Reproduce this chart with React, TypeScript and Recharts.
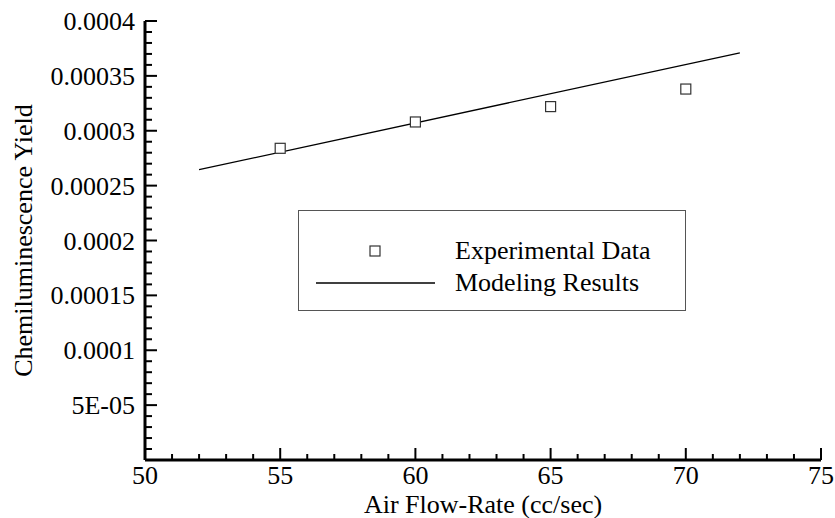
import { Label, Scatter, ScatterChart, XAxis, YAxis } from 'recharts';

// experimental points
const expFlow = [55, 60, 65, 70];
const expYield = [0.000284, 0.000308, 0.000322, 0.000338];

// modeling results (straight line)
const modelFlow = [52, 72];
const modelYield = [0.0002645, 0.000371];

const xMajor = [50, 55, 60, 65, 70, 75];
const xTicks = [50, 51, 52, 53, 54, 55, 56, 57, 58, 59, 60, 61, 62, 63, 64, 65, 66, 67, 68, 69, 70, 71, 72, 73, 74, 75];
const yMajorLabels = ['', '5E-05', '0.0001', '0.00015', '0.0002', '0.00025', '0.0003', '0.00035', '0.0004'];
const yTicks: number[] = [];
for (let i = 0; i <= 40; i++) yTicks.push(i / 100000);

const FONT = 'Liberation Serif, Times New Roman, serif';
const FS = 26;

const expData = expFlow.map((x, i) => ({ x, y: expYield[i] }));
const modelData = modelFlow.map((x, i) => ({ x, y: modelYield[i] }));

function SquareMark({ cx, cy }: any) {
  return <rect x={cx - 5} y={cy - 5} width={10} height={10} fill="#fff" stroke="#333" strokeWidth={1.2} />;
}

function XTick({ x, y, payload }: any) {
  const major = xMajor.includes(payload.value);
  return (
    <g>
      <line x1={x} y1={y} x2={x} y2={y - (major ? 12 : 6)} stroke="#000" strokeWidth={2} />
      {major && (
        <text x={x} y={y + 24} textAnchor="middle" style={{ fontFamily: FONT, fontSize: FS }} fill="#000">
          {payload.value}
        </text>
      )}
    </g>
  );
}

function YTick({ x, y, payload }: any) {
  const steps = Math.round(payload.value * 100000);
  const major = steps % 5 === 0;
  const label = major ? yMajorLabels[steps / 5] : '';
  return (
    <g>
      <line x1={x} y1={y} x2={x + (major ? 12 : 7)} y2={y} stroke="#000" strokeWidth={2} />
      {label && (
        <text x={x - 10} y={y + 9} textAnchor="end" style={{ fontFamily: FONT, fontSize: FS }} fill="#000">
          {label}
        </text>
      )}
    </g>
  );
}

function LegendBox() {
  return (
    <div
      style={{
        position: 'absolute',
        left: 298,
        top: 210,
        width: 386,
        height: 99,
        border: '1px solid #555',
        background: '#fff',
        fontFamily: FONT,
        fontSize: FS,
        color: '#000',
      }}
    >
      <svg width={386} height={99} style={{ position: 'absolute', left: 0, top: 0 }}>
        <rect x={71} y={35} width={10} height={10} fill="#fff" stroke="#333" strokeWidth={1.2} />
        <line x1={17} y1={72} x2={136} y2={72} stroke="#000" strokeWidth={1.3} />
      </svg>
      <div style={{ position: 'absolute', left: 156, top: 24, lineHeight: '32px', whiteSpace: 'nowrap' }}>
        Experimental Data
      </div>
      <div style={{ position: 'absolute', left: 156, top: 56, lineHeight: '32px', whiteSpace: 'nowrap' }}>
        Modeling Results
      </div>
    </div>
  );
}

export default function App() {
  return (
    <div style={{ position: 'absolute', left: 0, top: 0, width: 835, height: 518, background: '#fff' }}>
      <ScatterChart width={835} height={518} margin={{ top: 21, right: 14, left: 65, bottom: 28 }}>
        <XAxis
          type="number"
          dataKey="x"
          domain={[50, 75]}
          ticks={xTicks}
          interval={0}
          tickSize={0}
          tickMargin={0}
          tickLine={false}
          tick={<XTick />}
          axisLine={{ stroke: '#000', strokeWidth: 3 }}
          height={30}
          allowDataOverflow
        >
          <Label
            content={({ viewBox }: any) => (
              <text
                x={viewBox.x + viewBox.width / 2}
                y={viewBox.y + 53}
                textAnchor="middle"
                style={{ fontFamily: FONT, fontSize: FS }}
                fill="#000"
              >
                Air Flow-Rate (cc/sec)
              </text>
            )}
          />
        </XAxis>
        <YAxis
          type="number"
          dataKey="y"
          domain={[0, 0.0004]}
          ticks={yTicks}
          interval={0}
          tickSize={0}
          tickMargin={0}
          tickLine={false}
          tick={<YTick />}
          axisLine={{ stroke: '#000', strokeWidth: 3 }}
          width={80}
          allowDataOverflow
        >
          <Label
            content={({ viewBox }: any) => (
              <text
                x={32}
                y={viewBox.y + viewBox.height / 2}
                transform={`rotate(-90, 32, ${viewBox.y + viewBox.height / 2})`}
                textAnchor="middle"
                style={{ fontFamily: FONT, fontSize: FS }}
                fill="#000"
              >
                Chemiluminescence Yield
              </text>
            )}
          />
        </YAxis>
        <Scatter
          name="Modeling Results"
          data={modelData}
          line={{ stroke: '#000', strokeWidth: 1.3 }}
          shape={() => <g />}
          isAnimationActive={false}
        />
        <Scatter name="Experimental Data" data={expData} shape={<SquareMark />} isAnimationActive={false} />
      </ScatterChart>
      <LegendBox />
    </div>
  );
}
